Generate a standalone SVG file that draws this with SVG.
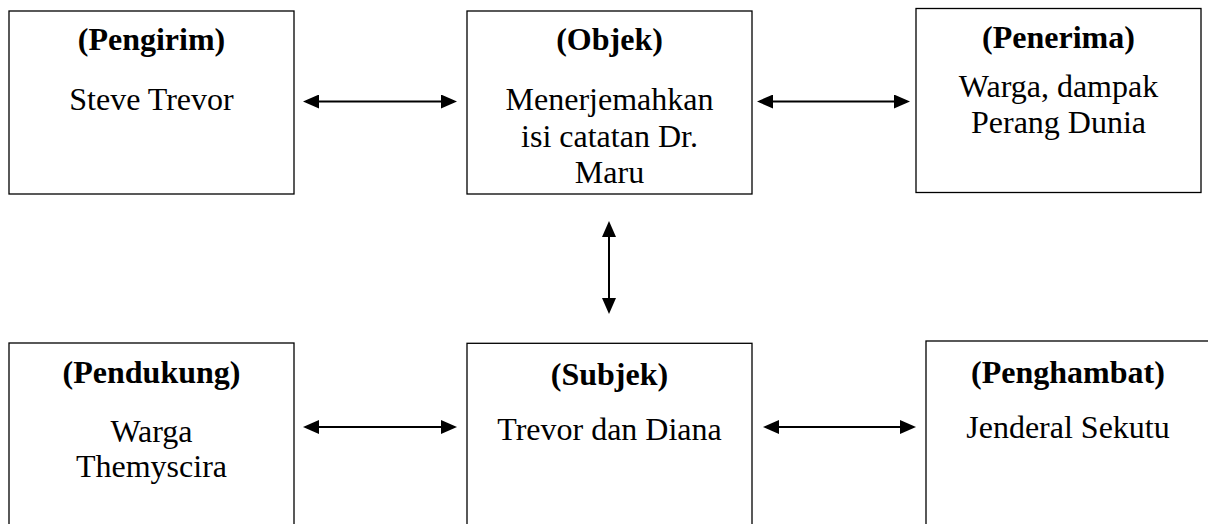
<svg xmlns="http://www.w3.org/2000/svg" width="1208" height="524" viewBox="0 0 1208 524">
<style>
.box{fill:#fff;stroke:#000;stroke-width:1.3}
.t{font-family:"Liberation Serif","Times New Roman",serif;font-size:32px;text-anchor:middle;fill:#000}
.b{font-weight:bold}
.c{stroke:#000;stroke-width:2;fill:none;marker-start:url(#ah);marker-end:url(#ah)}
</style>
<defs>
<marker id="ah" viewBox="0 0 16 14" refX="13" refY="7" markerWidth="16" markerHeight="14" markerUnits="userSpaceOnUse" orient="auto-start-reverse">
<path d="M0,0 L16,7 L0,14 z" fill="#000"/>
</marker>
</defs>
<rect width="1208" height="524" fill="#fff"/>
<g id="pengirim">
<rect class="box" x="9" y="11" width="285" height="183"/>
<text class="t b" x="151.5" y="50">(Pengirim)</text>
<text class="t" x="151.5" y="110">Steve Trevor</text>
</g>
<g id="objek">
<rect class="box" x="467" y="11" width="285" height="183"/>
<text class="t b" x="609.5" y="50">(Objek)</text>
<text class="t" x="609.5" y="110">Menerjemahkan</text>
<text class="t" x="609.5" y="146.7">isi catatan Dr.</text>
<text class="t" x="609.5" y="183.3">Maru</text>
</g>
<g id="penerima">
<rect class="box" x="916" y="8.5" width="285" height="184"/>
<text class="t b" x="1058.5" y="48.3">(Penerima)</text>
<text class="t" x="1058.5" y="96.7">Warga, dampak</text>
<text class="t" x="1058.5" y="133.3">Perang Dunia</text>
</g>
<g id="pendukung">
<rect class="box" x="9" y="343" width="285" height="200"/>
<text class="t b" x="151.5" y="383.3">(Pendukung)</text>
<text class="t" x="151.5" y="441.7">Warga</text>
<text class="t" x="151.5" y="476.7">Themyscira</text>
</g>
<g id="subjek">
<rect class="box" x="467" y="343.3" width="285" height="200"/>
<text class="t b" x="609.5" y="385">(Subjek)</text>
<text class="t" x="609.5" y="440">Trevor dan Diana</text>
</g>
<g id="penghambat">
<rect class="box" x="926" y="341" width="285" height="200"/>
<text class="t b" x="1068" y="382.7">(Penghambat)</text>
<text class="t" x="1068" y="438.3">Jenderal Sekutu</text>
</g>
<g id="connectors">
<line class="c" x1="306" y1="101.5" x2="454" y2="101.5"/>
<line class="c" x1="760" y1="101.5" x2="907" y2="101.5"/>
<line class="c" x1="609" y1="224" x2="609" y2="311"/>
<line class="c" x1="306" y1="427" x2="454" y2="427"/>
<line class="c" x1="766" y1="427" x2="913" y2="427"/>
</g>
</svg>
